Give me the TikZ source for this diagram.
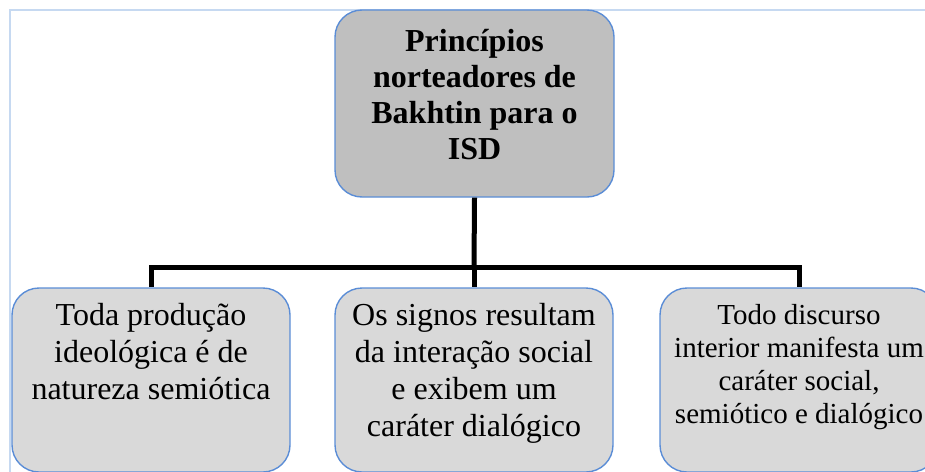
\documentclass[tikz,border=0pt]{standalone}
\usepackage{fontspec}
\setmainfont{Liberation Serif}
\usepackage{tikz}
\usetikzlibrary{positioning}
\usetikzlibrary{calc}

\definecolor{boxblue}{RGB}{91,141,214}
\definecolor{frameblue}{RGB}{198,217,241}
\definecolor{topgray}{RGB}{191,191,191}
\definecolor{subgray}{RGB}{217,217,217}

\tikzset{
  rootbox/.style={draw=boxblue, line width=1.4pt, fill=topgray, rounded corners=27pt,
    minimum width=279pt, minimum height=187pt, inner sep=0pt},
  subbox/.style={draw=boxblue, line width=1.4pt, fill=subgray, rounded corners=27pt,
    minimum width=278pt, minimum height=184pt, inner sep=0pt},
  roottext/.style={align=center, inner sep=0pt, font=\fontsize{32}{36}\selectfont\bfseries},
  subtext/.style={align=center, inner sep=0pt, anchor=north, font=\fontsize{32}{37}\selectfont},
  conn/.style={line width=5pt}
}

\begin{document}
\begin{tikzpicture}[x=1pt, y=1pt]
  \clip (0,0) rectangle (925,-471);
  % frame
  \draw[frameblue, line width=2pt] (10,-480) -- (10,-10) -- (940,-10);

  % root
  \node[rootbox]  (root) at (474.5,-103.5) {};
  \node[roottext] (roott) at (474.5,-95) {Princípios\\norteadores de\\Bakhtin para o\\ISD};

  % children
  \node[subbox] (c1) at (151,-380) {};
  \node[subbox] (c2) at (474,-380) {};
  \node[subbox] (c3) at (799,-380) {};
  \node[subtext] (t1) [below=16pt of c1.north] {Toda produção\\ideológica é de\\natureza semiótica};
  \node[subtext] (t2) [below=16pt of c2.north] {Os signos resultam\\da interação social\\e exibem um\\caráter dialógico};
  \node[subtext, font=\fontsize{29}{33}\selectfont] (t3) [below=17pt of c3.north]
    {Todo discurso\\interior manifesta um\\caráter social,\\semiótico e dialógico};

  % connectors
  \coordinate (bus) at (474,-267);
  \draw[conn] (root.south) -- (bus);
  \foreach \c in {c1,c2,c3}
    \draw[conn] (bus) -| (\c.north);
\end{tikzpicture}
\end{document}
